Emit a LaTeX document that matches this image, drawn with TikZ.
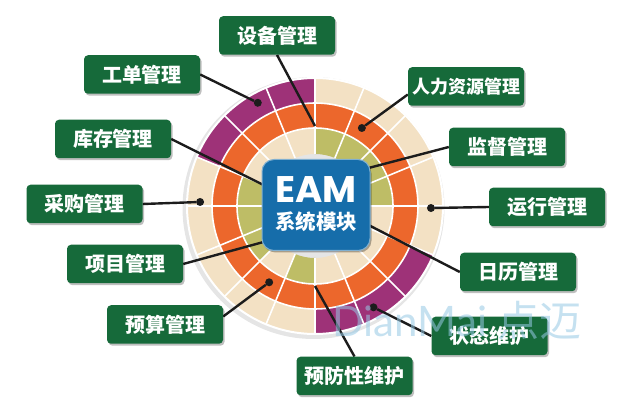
\documentclass[tikz,border=0pt]{standalone}
\usepackage{fontspec}
\setmainfont{Liberation Sans}
\newfontfamily\cjk{Noto Sans CJK SC}
\newfontfamily\eamfont{Poppins}
\newfontfamily\wmfont{Lato}
\usepackage{tikz}
\usetikzlibrary{calc,shadows}

\definecolor{sand}{RGB}{243,225,196}
\definecolor{rust}{RGB}{236,103,44}
\definecolor{moss}{RGB}{190,189,102}
\definecolor{plum}{RGB}{158,50,120}
\definecolor{boxgreen}{RGB}{22,106,58}
\definecolor{eamblue}{RGB}{22,109,170}
\definecolor{wirecol}{RGB}{28,28,28}
\definecolor{wmblue}{RGB}{150,200,228}

\pgfdeclarelayer{rings}
\pgfdeclarelayer{wires}
\pgfsetlayers{rings,wires,main}

\tikzset{
  modbox/.style={fill=boxgreen, rounded corners=4pt, minimum width=116pt,
    minimum height=38.5pt, inner sep=0pt, text=white,
    font=\cjk\bfseries\fontsize{20}{20}\selectfont,
    drop shadow={shadow xshift=1.5pt, shadow yshift=-2pt, fill=black, opacity=.25}},
  wire/.style={wirecol, line width=2.4pt},
  pin/.style={circle, fill=wirecol, inner sep=0pt, minimum size=8pt},
  segline/.style={white, line width=1.6pt},
}

% one ring of 16 sectors, colours counter-clockwise from 0 deg
\newcommand\ringof[3]{%
  \foreach \c [count=\k from 0] in {#3} {
    \pgfmathsetmacro\a{\k*22.5}\pgfmathsetmacro\b{\a+22.5}
    \fill[\c] ($(ctr)+(\a:#1)$) arc[start angle=\a, end angle=\b, radius=#1]
      -- ($(ctr)+(\b:#2)$) arc[start angle=\b, end angle=\a, radius=#2] -- cycle;
  }}

\begin{document}
\begin{tikzpicture}[x=1pt,y=1pt]
\useasboundingbox (0,0) rectangle (625,402);
\coordinate (ctr) at (315,196);

% rings
\begin{pgfonlayer}{rings}
  \fill[black!10] ($(ctr)+(-1.5,-2)$) circle[radius=131];
  \ringof{103}{128}{sand,sand,sand,sand,plum,plum,plum,sand,sand,sand,sand,sand,plum,plum,plum,sand}
  \ringof{78}{103}{rust,rust,rust,rust,rust,rust,rust,rust,rust,rust,rust,rust,rust,rust,rust,rust}
  \ringof{52}{78}{moss,moss,moss,moss,sand,sand,sand,moss,moss,moss,sand,moss,sand,sand,sand,sand}
  \foreach \k in {0,...,15}
    \draw[segline] ($(ctr)+(\k*22.5:52)$) -- ($(ctr)+(\k*22.5:128)$);
  \foreach \r in {78,103}
    \draw[segline] (ctr) circle[radius=\r];
  \draw[white, line width=2pt] (ctr) circle[radius=128];
\end{pgfonlayer}

% centre
\node[fill=eamblue, draw=eamblue!55!white, line width=1pt, rounded corners=12pt,
  minimum width=108pt, minimum height=91pt,
  drop shadow={shadow xshift=1.5pt, shadow yshift=-2pt, fill=black, opacity=.3}] (eam) at (316,197) {};
\node[inner sep=0pt, text=white, font=\eamfont\bfseries\fontsize{37}{37}\selectfont] (eamt) at (316,212.5) {EAM};
\node[inner sep=0pt, text=white, font=\cjk\bfseries\fontsize{20.5}{21}\selectfont] (eams) at (316,180.5) {系统模块};

% modules
\node[modbox] (b1) at (277,366.5) {设备管理};
\node[modbox] (b2) at (142,327.5) {工单管理};
\node[modbox] (b3) at (113,263) {库存管理};
\node[modbox] (b4) at (84.5,198) {采购管理};
\node[modbox] (b5) at (125,138) {项目管理};
\node[modbox] (b6) at (165,77.5) {预算管理};
\node[modbox] (b7) at (354.5,26) {预防性维护};
\node[modbox] (b8) at (489.5,66) {状态维护};
\node[modbox] (b9) at (518,130) {日历管理};
\node[modbox] (b10) at (547,195) {运行管理};
\node[modbox] (b11) at (507,255) {监督管理};
\node[modbox, font=\cjk\bfseries\fontsize{18}{18}\selectfont] (b12) at (466,315.5) {人力资源管理};

% connectors
\begin{pgfonlayer}{wires}
  \node[pin] (d2) at ($(ctr)+(119:118)$) {};
  \node[pin] (d4) at ($(ctr)+(178:115)$) {};
  \node[pin] (d6) at ($(ctr)+(239:89)$) {};
  \node[pin] (d8) at ($(ctr)+(-60:117)$) {};
  \node[pin] (d10) at ($(ctr)+(-1:116)$) {};
  \node[pin] (d12) at ($(ctr)+(59:91)$) {};
  \coordinate (e1) at ($(ctr)+(90:80)$);
  \coordinate (e3) at ($(eam.west)+(2,20)$);
  \coordinate (e5) at ($(eam.west)+(2,-37)$);
  \coordinate (e7) at ($(ctr)+(-90:80)$);
  \coordinate (e9) at ($(eam.east)+(-2,-20)$);
  \coordinate (e11) at ($(eam.east)+(-2,37)$);
  \draw[wire] (b1.south) -- (e1);
  \draw[wire] (b2.east) -- (d2);
  \draw[wire] (b3.east) -- (e3);
  \draw[wire] (b4.east) -- (d4);
  \draw[wire] (b5.east) -- (e5);
  \draw[wire] ($(b6.east)+(0,8)$) -- (d6);
  \draw[wire] (b7.north) -- (e7);
  \draw[wire] (b8.west) -- (d8);
  \draw[wire] (b9.west) -- (e9);
  \draw[wire] (b10.west) -- (d10);
  \draw[wire] (b11.west) -- (e11);
  \draw[wire] ($(b12.west)+(0,-8)$) -- (d12);
\end{pgfonlayer}

% watermark
\node[anchor=base west, inner sep=0pt, text=wmblue, opacity=.55,
  font=\wmfont\fontsize{42}{42}\selectfont] (wm) at (332,65) {DianMai {\cjk 点迈}};
\end{tikzpicture}
\end{document}
